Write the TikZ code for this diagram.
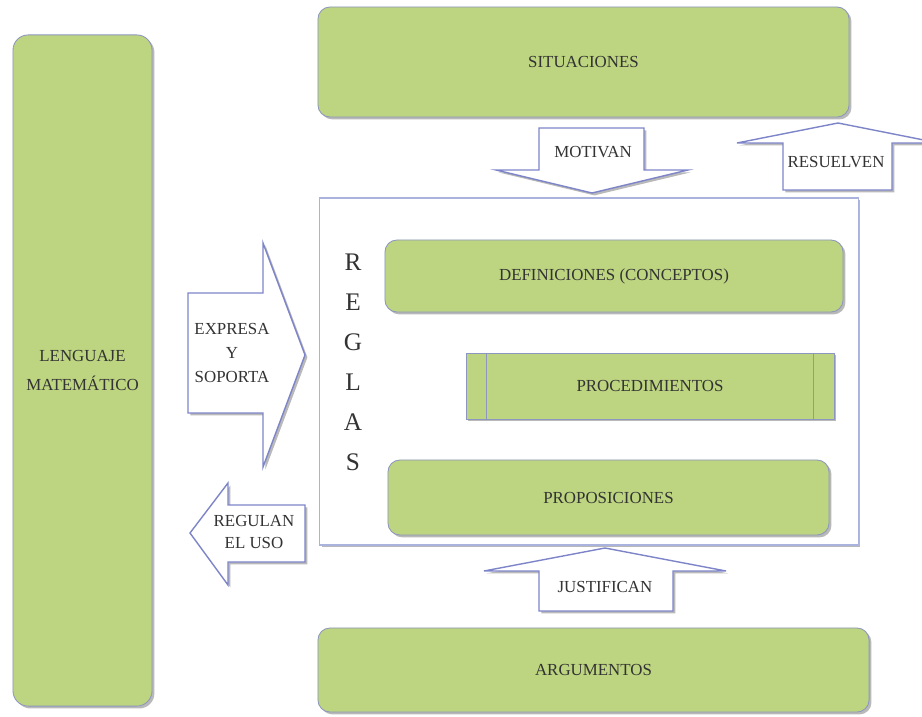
\documentclass[tikz,border=0pt]{standalone}
\usepackage{fontspec}
\setmainfont{Liberation Serif}
\usetikzlibrary{shadows}

\definecolor{verde}{RGB}{189,212,128}
\definecolor{borde}{RGB}{140,150,190}
\definecolor{flecha}{RGB}{125,133,200}
\definecolor{marco}{RGB}{170,178,222}

\begin{document}
\begin{tikzpicture}[x=0.025cm, y=-0.025cm, font=\fontsize{12}{14}\selectfont]
		\tikzstyle{sombra} = [drop shadow={shadow xshift=0.06cm, shadow yshift=-0.06cm, fill=black!55}]
		\tikzstyle{caja} = [draw=borde, fill=verde, line width=0.6pt, rounded corners=0.3cm, text=black!80, align=center, sombra]
		\tikzstyle{bloque} = [draw=flecha, fill=white, line width=1pt, line join=miter, sombra]
		\tikzstyle{rotulo} = [text=black!80, align=center, inner sep=0pt]

		\useasboundingbox (0,0) rectangle (922,717);
		\clip (0,0) rectangle (922,717);

		% cajas
		\path
		node[caja, minimum width=3.475cm, minimum height=16.775cm, rounded corners=0.38cm,
			font=\fontsize{12}{20}\selectfont] (leng) at (82.5,370.5) {LENGUAJE\\MATEM\'ATICO}
		node[caja, minimum width=13.275cm, minimum height=2.75cm] (sit) at (583.5,62) {SITUACIONES}
		node[draw=marco, fill=white, line width=0.8pt, sombra, minimum width=13.45cm, minimum height=8.675cm] (reglas) at (589,371.5) {}
		node[caja, minimum width=13.775cm, minimum height=2.1cm] (arg) at (593.5,670) {ARGUMENTOS}
		;

		\path
		node[caja, minimum width=11.45cm, minimum height=1.8cm] (def) at (614,276) {DEFINICIONES (CONCEPTOS)}
		node[caja, rounded corners=0pt, minimum width=9.2cm, minimum height=1.65cm] (proc) at (650,386) {PROCEDIMIENTOS}
		node[caja, minimum width=11.025cm, minimum height=1.875cm] (prop) at (608.5,497.5) {PROPOSICIONES}
		node[rotulo, font=\fontsize{18}{28.5}\selectfont] (letras) at (353,362.5) {R\\E\\G\\L\\A\\S}
		;
		\draw[borde, line width=0.6pt] ([xshift=0.525cm]proc.north west) -- ([xshift=0.525cm]proc.south west);
		\draw[borde, line width=0.6pt] ([xshift=-0.525cm]proc.north east) -- ([xshift=-0.525cm]proc.south east);

		% flechas
		\draw[bloque] (539,128) -- (644,128) -- (644,170) -- (688,170) -- (592,193) -- (496,170) -- (539,170) -- cycle;
		\node[rotulo] (motivan) at (593,152) {MOTIVAN};

		\draw[bloque] (783,190) -- (783,143) -- (737,143) -- (838,123) -- (939,143) -- (892,143) -- (892,190) -- cycle;
		\node[rotulo] (resuelven) at (836,162) {RESUELVEN};

		\draw[bloque] (539,611) -- (539,571) -- (484,571) -- (605,548) -- (726,571) -- (673,571) -- (673,611) -- cycle;
		\node[rotulo] (justifican) at (605,587) {JUSTIFICAN};

		\draw[bloque] (188,293) -- (263,293) -- (263,243) -- (305,355) -- (263,467) -- (263,413) -- (188,413) -- cycle;
		\node[rotulo, font=\fontsize{12}{17}\selectfont] (expresa) at (232,353) {EXPRESA\\Y\\SOPORTA};

		\draw[bloque] (305,505) -- (228,505) -- (228,483) -- (190,533) -- (228,585) -- (228,562) -- (305,562) -- cycle;
		\node[rotulo, font=\fontsize{12}{15.5}\selectfont] (regulan) at (254,532) {REGULAN\\EL USO};

		\end{tikzpicture}
\end{document}
